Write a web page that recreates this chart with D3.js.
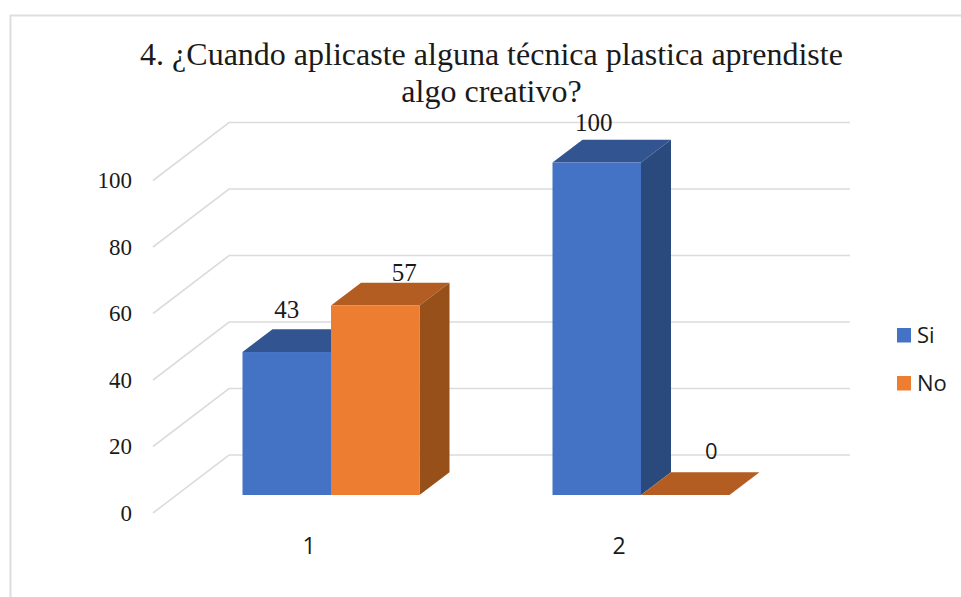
<!DOCTYPE html>
<html>
<head>
<meta charset="utf-8">
<script src="https://cdn.jsdelivr.net/npm/d3@7"></script>
<style>
  html, body { margin: 0; padding: 0; background: #fff; }
  svg { display: block; }
  .serif { font-family: "Liberation Serif", serif; fill: #1a1a1a; }
  .sans { font-family: "Open Sans", sans-serif; fill: #1a1a1a; }
</style>
</head>
<body>
<svg id="chart" width="961" height="597"></svg>
<script>
const categories = ["1", "2"];
const seriesNames = ["Si", "No"];
const siValues = [43, 100];
const noValues = [57, 0];
const yTicks = [0, 20, 40, 60, 80, 100];
const titleLines = [
  "4. ¿Cuando aplicaste alguna técnica plastica aprendiste",
  "algo creativo?",
];

const WIDTH = 961;
const HEIGHT = 597;

// 3d look: floor front edge, back wall and the bar depth
const WALL_DX = 76;
const WALL_DY = -58;
const BAR_FRONT_DY = -18;
const BAR_DX = 30;
const BAR_DY = -22.7;
const GRID_RIGHT = 850;

const COLORS = {
  Si: { front: "#4472C4", top: "#325592", side: "#2A4A7E" },
  No: { front: "#ED7D31", top: "#B35D22", side: "#975019" },
};

// data labels sit in odd places in the original, offset from bar front top centre
const LABEL_OFFSETS = {
  "Si-1": [0, -43],
  "No-1": [29, -33],
  "Si-2": [-3, -40],
  "No-2": [26, -45],
};

const svg = d3.select("#chart");

const y = d3.scaleLinear().domain([0, 100]).range([513, 180.5]);
const x0 = d3.scaleBand().domain(categories).range([154, 774]);
const x1 = d3.scaleBand().domain(seriesNames).range([88.5, 265.5]);

// frame
svg
  .append("path")
  .attr("d", `M${WIDTH},15.5H10.5V${HEIGHT}`)
  .attr("fill", "none")
  .attr("stroke", "#dedede")
  .attr("stroke-width", 2);

// title
svg
  .selectAll(".title")
  .data(titleLines)
  .join("text")
  .attr("class", "title serif")
  .attr("x", 491.5)
  .attr("y", (d, i) => 65 + i * 37)
  .attr("text-anchor", "middle")
  .style("font-size", "32px")
  .text((d) => d);

// gridlines: side wall + back wall
svg
  .append("g")
  .selectAll("path")
  .data(yTicks)
  .join("path")
  .attr("d", (d) => {
    const fy = y(d);
    return `M${x0.range()[0] - 1},${fy}L${x0.range()[0] - 1 + WALL_DX},${fy + WALL_DY}H${GRID_RIGHT}`;
  })
  .attr("fill", "none")
  .attr("stroke", "#dcdcdc")
  .attr("stroke-width", 1.6);

// y axis
const yAxis = svg
  .append("g")
  .attr("transform", "translate(132,0)")
  .call(d3.axisLeft(y).tickValues(yTicks).tickSize(0).tickPadding(0));
yAxis.select(".domain").remove();
yAxis
  .selectAll("text")
  .attr("class", "serif")
  .style("font-size", "23px");

// x axis
const xAxis = svg
  .append("g")
  .attr("transform", "translate(0,537.7)")
  .call(d3.axisBottom(x0).tickSize(0).tickPadding(0));
xAxis.select(".domain").remove();
xAxis
  .selectAll("text")
  .attr("class", "sans")
  .style("font-size", "23px");

// flatten into bars, Si first so No covers the side of Si
const bars = [];
categories.forEach((c, i) => {
  bars.push({ cat: c, name: "Si", value: siValues[i] });
  bars.push({ cat: c, name: "No", value: noValues[i] });
});

function barBox(d) {
  const left = x0(d.cat) + x1(d.name);
  return {
    left: left,
    right: left + x1.bandwidth(),
    top: y(d.value) + BAR_FRONT_DY,
    bottom: y(0) + BAR_FRONT_DY,
  };
}

const barG = svg
  .append("g")
  .selectAll("g")
  .data(bars)
  .join("g");

// top face
barG
  .append("path")
  .attr("fill", (d) => COLORS[d.name].top)
  .attr("d", (d) => {
    const b = barBox(d);
    return `M${b.left},${b.top}L${b.left + BAR_DX},${b.top + BAR_DY}H${b.right + BAR_DX}L${b.right},${b.top}Z`;
  });

// side face
barG
  .append("path")
  .attr("fill", (d) => COLORS[d.name].side)
  .attr("d", (d) => {
    const b = barBox(d);
    return `M${b.right},${b.top}L${b.right + BAR_DX},${b.top + BAR_DY}V${b.bottom + BAR_DY}L${b.right},${b.bottom}Z`;
  });

// front face
barG
  .append("rect")
  .attr("fill", (d) => COLORS[d.name].front)
  .attr("x", (d) => barBox(d).left)
  .attr("y", (d) => barBox(d).top)
  .attr("width", x1.bandwidth())
  .attr("height", (d) => barBox(d).bottom - barBox(d).top);

// data labels
svg
  .append("g")
  .selectAll("text")
  .data(bars)
  .join("text")
  .attr("class", (d) => (d.value === 0 ? "sans" : "serif"))
  .attr("text-anchor", "middle")
  .attr("dominant-baseline", "central")
  .attr("x", (d) => {
    const b = barBox(d);
    return (b.left + b.right) / 2 + LABEL_OFFSETS[d.name + "-" + d.cat][0];
  })
  .attr("y", (d) => barBox(d).top + LABEL_OFFSETS[d.name + "-" + d.cat][1])
  .style("font-size", (d) => (d.value === 0 ? "22px" : "25px"))
  .text((d) => d.value);

// legend
const legend = svg
  .append("g")
  .selectAll("g")
  .data(seriesNames)
  .join("g")
  .attr("transform", (d, i) => `translate(897,${328 + i * 48})`);

legend
  .append("rect")
  .attr("width", 14)
  .attr("height", 14.5)
  .attr("fill", (d) => COLORS[d].front);

legend
  .append("text")
  .attr("class", "sans")
  .attr("x", 20)
  .attr("y", 14.7)
  .style("font-size", "22px")
  .text((d) => d);
</script>
</body>
</html>
